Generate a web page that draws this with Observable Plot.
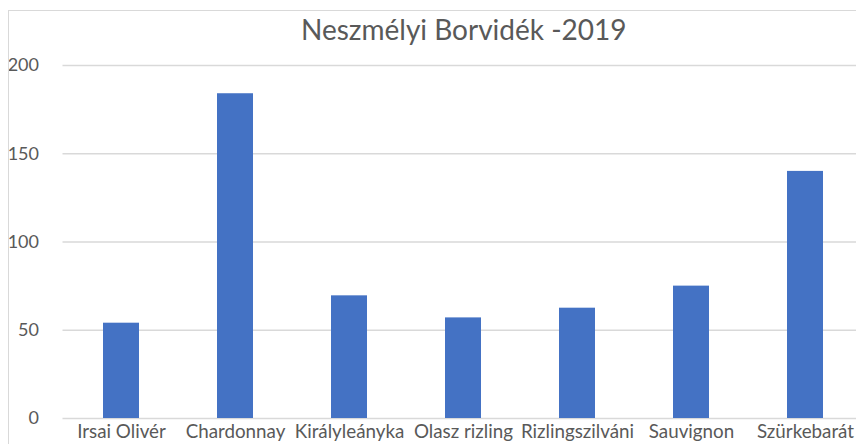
<!DOCTYPE html>
<html>
<head>
<meta charset="utf-8">
<script src="https://cdn.jsdelivr.net/npm/d3@7"></script>
<script src="https://cdn.jsdelivr.net/npm/@observablehq/plot@0.6"></script>
<style>
  html, body { margin: 0; padding: 0; background: #fff; }
  #wrap { position: relative; width: 856px; height: 444px; overflow: hidden; }
  #border { position: absolute; left: 8px; top: 10px; width: 900px; height: 500px;
            border-left: 1px solid #d9d9d9; border-top: 1px solid #d9d9d9; pointer-events: none; }
  svg { display: block; }
</style>
</head>
<body>
<div id="wrap"><div id="border"></div></div>
<script>
const title = "Neszmélyi Borvidék -2019";
const categories = ["Irsai Olivér", "Chardonnay", "Királyleányka", "Olasz rizling", "Rizlingszilváni", "Sauvignon", "Szürkebarát"];
const values = [54, 184, 69.5, 57, 62.5, 75, 140];
const yTicks = [0, 50, 100, 150, 200];

const data = categories.map((c, i) => ({category: c, value: values[i]}));
const font = "Lato, 'Open Sans', sans-serif";

const chart = Plot.plot({
  width: 856,
  height: 444,
  marginTop: 65,
  marginBottom: 26,
  marginLeft: 62.5,
  marginRight: -8,
  style: {fontFamily: font, fontSize: "18px", color: "#595959", background: "transparent", overflow: "hidden"},
  x: {domain: categories, paddingInner: 0.686, paddingOuter: 0.343, label: null},
  y: {domain: [0, 200], ticks: yTicks, label: null},
  marks: [
    Plot.gridY(yTicks, {stroke: "#d9d9d9", strokeOpacity: 1, strokeWidth: 1.5}),
    Plot.barY(data, {x: "category", y: "value", fill: "#4472c4"}),
    Plot.axisY(yTicks, {tickSize: 0, tickPadding: 24, fontSize: 18, fill: "#595959"}),
    Plot.axisX({tickSize: 0, tickPadding: 6, fontSize: 18.8, fill: "#595959"}),
    Plot.text([title], {frameAnchor: "top", dy: -34, text: d => d, fontSize: 28, fill: "#595959", lineAnchor: "middle"})
  ]
});
document.getElementById("wrap").prepend(chart);
</script>
</body>
</html>
